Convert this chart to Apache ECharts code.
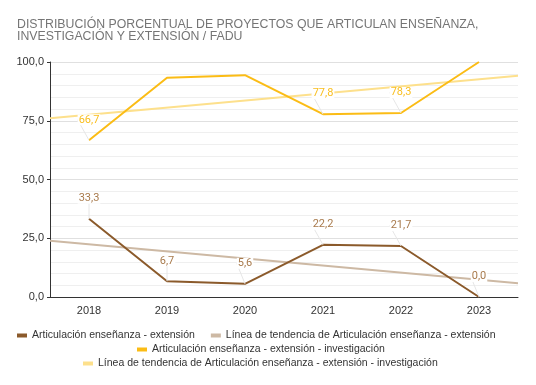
<!DOCTYPE html>
<html>
<head>
<meta charset="utf-8">
<script src="https://cdn.jsdelivr.net/npm/echarts@6/dist/echarts.min.js"></script>
<style>html,body{margin:0;padding:0;background:#fff;}#c{width:536px;height:385px;}</style>
</head>
<body>
<div id="c"></div>
<script>
var years = ['2018', '2019', '2020', '2021', '2022', '2023'];
var extVals = [33.3, 6.7, 5.6, 22.2, 21.7, 0.0];
var extInvVals = [66.7, 93.3, 94.4, 77.8, 78.3, 100.0];
var extInvLabelShown = [true, false, false, true, true, false];
// trend lines read at the left and right plot edges
var extTrend = [23.9, 5.9];
var extInvTrend = [76.1, 94.1];
var yTicks = [0, 25, 50, 75, 100];
var names = [
  'Articulación enseñanza - extensión',
  'Línea de tendencia de Articulación enseñanza - extensión',
  'Articulación enseñanza - extensión - investigación',
  'Línea de tendencia de Articulación enseñanza - extensión - investigación'
];

function fmt(v) { return v.toFixed(1).replace('.', ','); }
var font = 'Liberation Sans, Arial, sans-serif';

var chart = echarts.init(document.getElementById('c'), null, {renderer: 'canvas'});
function labelCfg(color) {
  return {
    show: true, position: 'top', distance: 5, color: color, fontSize: 11, fontFamily: 'Roboto, ' + font,
    backgroundColor: '#fff', padding: [0, 1],
    formatter: function (p) { return fmt(Array.isArray(p.value) ? p.value[1] : p.value); }
  };
}
var legendBase = {
  icon: 'rect', itemWidth: 10, itemHeight: 4, itemGap: 16,
  textStyle: {fontSize: 10.5, color: '#333', fontFamily: font}, selectedMode: false
};
chart.setOption({
  animation: false,
  title: {
    text: 'DISTRIBUCIÓN PORCENTUAL DE PROYECTOS QUE ARTICULAN ENSEÑANZA,\nINVESTIGACIÓN Y EXTENSIÓN / FADU',
    left: 12, top: 14,
    textStyle: {fontSize: 12.3, fontWeight: 'normal', color: '#757575', fontFamily: font, lineHeight: 12}
  },
  legend: [
    Object.assign({}, legendBase, {left: 12, top: 325, data: [names[0], names[1]]}),
    Object.assign({}, legendBase, {left: 132, top: 339, data: [names[2]]}),
    Object.assign({}, legendBase, {left: 78, top: 353, data: [names[3]]})
  ],
  grid: {left: 50, right: 18, top: 62, bottom: 88},
  xAxis: [{
    type: 'category', data: years, boundaryGap: true,
    axisLine: {lineStyle: {color: '#333', width: 1}},
    axisTick: {alignWithLabel: true, length: 4, lineStyle: {color: '#333'}},
    axisLabel: {color: '#333', fontSize: 11, fontFamily: font, margin: 8}
  }, {
    type: 'value', min: 0, max: 6, show: false
  }],
  yAxis: {
    type: 'value', min: yTicks[0], max: yTicks[yTicks.length - 1], interval: 25,
    axisLine: {show: true, lineStyle: {color: '#333'}},
    axisTick: {show: true, length: 3, lineStyle: {color: '#333'}},
    axisLabel: {color: '#333', fontSize: 11, fontFamily: font, margin: 6, formatter: function (v) { return fmt(v); }},
    splitLine: {show: true, lineStyle: {color: '#e0e0e0'}},
    minorTick: {show: false, splitNumber: 5},
    minorSplitLine: {show: true, lineStyle: {color: '#efefef'}}
  },
  series: [{
    name: names[0], type: 'line', data: extVals, xAxisIndex: 0,
    symbol: 'circle', symbolSize: 0, color: '#8b5a2b', lineStyle: {width: 2, color: '#8b5a2b'},
    label: labelCfg('#a87a4c'),
    labelLayout: {dy: -10},
    labelLine: {show: true, lineStyle: {color: '#e6e6e6', width: 1}},
    z: 4
  }, {
    name: names[1], type: 'line', xAxisIndex: 1,
    data: [[0, extTrend[0]], [6, extTrend[1]]],
    symbol: 'none', color: '#cdb9a4', lineStyle: {width: 2, color: '#cdb9a4'}, z: 2
  }, {
    name: names[2], type: 'line', xAxisIndex: 0,
    data: extInvVals.map(function (v, i) { return {value: v, label: {show: extInvLabelShown[i]}}; }),
    symbol: 'circle', symbolSize: 0, color: '#fbbc15', lineStyle: {width: 2, color: '#fbbc15'},
    label: labelCfg('#f9be1e'),
    labelLayout: {dy: -10},
    labelLine: {show: true, lineStyle: {color: '#e6e6e6', width: 1}},
    z: 4
  }, {
    name: names[3], type: 'line', xAxisIndex: 1,
    data: [[0, extInvTrend[0]], [6, extInvTrend[1]]],
    symbol: 'none', color: '#fde08c', lineStyle: {width: 2, color: '#fde08c'}, z: 2
  }]
});
</script>
</body>
</html>
